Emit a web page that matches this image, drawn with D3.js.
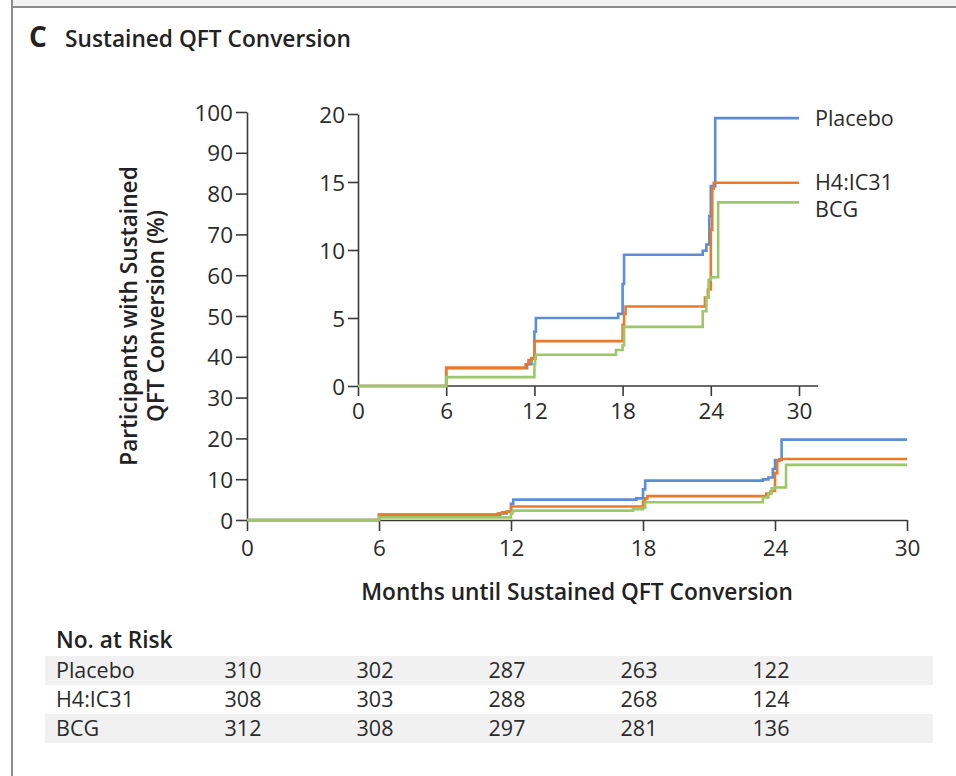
<!DOCTYPE html>
<html><head><meta charset="utf-8">
<script src="https://cdn.jsdelivr.net/npm/d3@7/dist/d3.min.js"></script>
<style>body{margin:0;background:#fff;overflow:hidden}</style>
</head><body><svg id="c" width="956" height="776"></svg>
<script>
// ---- data ----
const monthTicks = [0, 6, 12, 18, 24, 30];
const mainYTicks = [0, 10, 20, 30, 40, 50, 60, 70, 80, 90, 100];
const insetYTicks = [0, 5, 10, 15, 20];
const seriesNames = ["Placebo", "H4:IC31", "BCG"];
const seriesColors = ["#5b8ed6", "#ea792a", "#9cc86b"];

const placeboMonths = [0, 6, 11.5, 11.8, 12.0, 12.1, 17.7, 18.0, 18.1, 23.45, 23.7, 23.9, 24.0, 24.3, 30];
const placeboPct    = [0, 1.3, 1.6, 2.0, 4.0, 5.0, 5.3, 7.5, 9.65, 9.95, 10.4, 12.5, 14.7, 19.7, 19.7];
const h4Months = [0, 6, 11.4, 11.6, 11.8, 12.0, 18.0, 18.1, 18.2, 23.6, 23.8, 24.0, 24.1, 24.2, 30];
const h4Pct    = [0, 1.35, 1.6, 1.9, 2.05, 3.3, 4.5, 5.3, 5.85, 6.5, 7.1, 11.5, 14.5, 14.95, 14.95];
const bcgMonths = [0, 6, 12.0, 12.05, 12.1, 17.55, 18.0, 18.1, 23.45, 23.7, 23.85, 24.0, 24.5, 30];
const bcgPct    = [0, 0.65, 1.6, 2.0, 2.3, 2.65, 3.0, 4.35, 5.5, 6.5, 7.8, 8.0, 13.5, 13.5];

const riskMonths = [0, 6, 12, 18, 24];
const riskPlacebo = [310, 302, 287, 263, 122];
const riskH4 = [308, 303, 288, 268, 124];
const riskBCG = [312, 308, 297, 281, 136];

// ---- build ----
const series = [
  {name: seriesNames[0], color: seriesColors[0], t: placeboMonths, v: placeboPct, risk: riskPlacebo},
  {name: seriesNames[1], color: seriesColors[1], t: h4Months, v: h4Pct, risk: riskH4},
  {name: seriesNames[2], color: seriesColors[2], t: bcgMonths, v: bcgPct, risk: riskBCG}
].map(s => ({...s, pts: s.t.map((t, i) => [t, s.v[i]])}));

const svg = d3.select("#c");
const regFont = "'Open Sans', 'Noto Sans', sans-serif";
const boldFont = "'Open Sans', 'Noto Sans', sans-serif";
const regSize = 21.5, tickSize = 22.5, boldSize = 22.7;
const textColor = "#2b2b2b";
const axisColor = "#3a3a3a";

// frame
svg.append("rect").attr("x", 12).attr("y", 0).attr("width", 944).attr("height", 6).attr("fill", "#f3f3f3");
svg.append("line").attr("x1", 12).attr("x2", 12).attr("y1", 0).attr("y2", 776).attr("stroke", "#8c8c8c").attr("stroke-width", 2);
svg.append("line").attr("x1", 12).attr("x2", 956).attr("y1", 7).attr("y2", 7).attr("stroke", "#8c8c8c").attr("stroke-width", 2);

// title
svg.append("text").attr("x", 29).attr("y", 47).attr("font-family", boldFont).attr("font-weight", 700)
  .attr("font-size", 28).attr("fill", "#222").text("C");
svg.append("text").attr("x", 65).attr("y", 47).attr("font-family", boldFont).attr("font-weight", 600)
  .attr("font-size", boldSize).attr("fill", "#222").text("Sustained QFT Conversion");

// main scales
const x = d3.scaleLinear().domain([0, 30]).range([247, 907]);
const y = d3.scaleLinear().domain([0, 100]).range([520, 112]);

function styleAxis(g) {
  g.selectAll("path, line").attr("stroke", axisColor).attr("stroke-width", 1.6);
  g.selectAll("text").attr("font-family", regFont).attr("font-size", tickSize).attr("fill", textColor);
}

const gy = svg.append("g").attr("transform", `translate(${x(0)},0)`)
  .call(d3.axisLeft(y).tickValues(mainYTicks).tickSize(11).tickSizeOuter(0).tickPadding(3));
styleAxis(gy);
gy.selectAll("text").attr("dy", "0.36em");
const gx = svg.append("g").attr("transform", `translate(0,${y(0)})`)
  .call(d3.axisBottom(x).tickValues(monthTicks).tickSize(11).tickSizeOuter(0).tickPadding(9));
styleAxis(gx);

const line = d3.line().x(d => x(d[0])).y(d => y(d[1])).curve(d3.curveStepAfter);
series.forEach(s => {
  svg.append("path").datum(s.pts).attr("d", line).attr("fill", "none")
    .attr("stroke", s.color).attr("stroke-width", 2.6);
});

// axis titles
svg.append("text").attr("x", (x(0) + x(30)) / 2).attr("y", 600).attr("text-anchor", "middle")
  .attr("font-family", boldFont).attr("font-weight", 600).attr("font-size", boldSize).attr("fill", "#222")
  .text("Months until Sustained QFT Conversion");
const yl = svg.append("text").attr("transform", `translate(137,316) rotate(-90)`).attr("text-anchor", "middle")
  .attr("font-family", boldFont).attr("font-weight", 600).attr("font-size", boldSize).attr("fill", "#222");
yl.append("tspan").attr("x", 0).attr("y", 0).text("Participants with Sustained");
yl.append("tspan").attr("x", 0).attr("y", 27).text("QFT Conversion (%)");

// inset
const xi = d3.scaleLinear().domain([0, 30]).range([358, 799]);
const yi = d3.scaleLinear().domain([0, 20]).range([386, 114]);
const giy = svg.append("g").attr("transform", `translate(${xi(0)},0)`)
  .call(d3.axisLeft(yi).tickValues(insetYTicks).tickSize(10).tickSizeOuter(0).tickPadding(3));
styleAxis(giy);
giy.selectAll("text").attr("dy", "0.36em");
const gix = svg.append("g").attr("transform", `translate(0,${yi(0)})`)
  .call(d3.axisBottom(xi).tickValues(monthTicks).tickSize(10).tickSizeOuter(0).tickPadding(7));
styleAxis(gix);
gix.select(".domain").remove();
gix.append("line").attr("x1", xi(0)).attr("x2", xi(30) + 19).attr("y1", 0).attr("y2", 0)
  .attr("stroke", axisColor).attr("stroke-width", 1.6);

const linei = d3.line().x(d => xi(d[0])).y(d => yi(d[1])).curve(d3.curveStepAfter);
series.forEach(s => {
  svg.append("path").datum(s.pts).attr("d", linei).attr("fill", "none")
    .attr("stroke", s.color).attr("stroke-width", 2.6);
});

// legend labels
const nudges = [0, 0, 7];
series.forEach((s, i) => {
  const last = s.v[s.v.length - 1];
  svg.append("text").attr("x", xi(30) + 16).attr("y", yi(last) + nudges[i]).attr("dy", "0.36em")
    .attr("font-family", regFont).attr("font-size", regSize).attr("fill", textColor).text(s.name);
});

// No. at risk table
svg.append("text").attr("x", 56).attr("y", 648).attr("font-family", boldFont).attr("font-weight", 600)
  .attr("font-size", boldSize).attr("fill", "#222").text("No. at Risk");
const rowH = 29, row0 = 656;
series.forEach((s, i) => {
  if (i !== 1) svg.append("rect").attr("x", 45).attr("y", row0 + i * rowH).attr("width", 888).attr("height", rowH)
    .attr("fill", "#f1f1f1");
});
series.forEach((s, i) => {
  const cy = row0 + i * rowH + rowH / 2;
  svg.append("text").attr("x", 56).attr("y", cy).attr("dy", "0.36em").attr("font-family", regFont)
    .attr("font-size", regSize).attr("fill", textColor).text(s.name);
  s.risk.forEach((r, j) => {
    svg.append("text").attr("x", x(riskMonths[j]) - 4).attr("y", cy).attr("dy", "0.36em")
      .attr("text-anchor", "middle").attr("font-family", regFont).attr("font-size", regSize)
      .attr("fill", textColor).text(r);
  });
});
</script></body></html>
